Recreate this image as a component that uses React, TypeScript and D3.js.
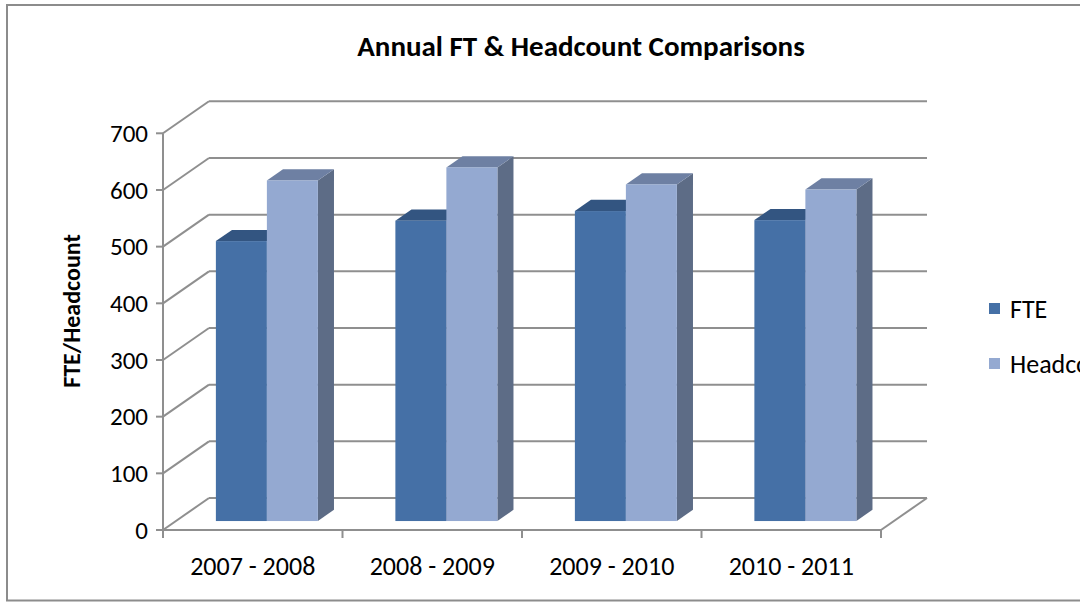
import React from "react";
import * as d3 from "d3";

const categories = ["2007 - 2008", "2008 - 2009", "2009 - 2010", "2010 - 2011"];
const seriesNames = ["FTE", "Headcount"];
const fteValues = [494, 530, 547, 531];
const headcountValues = [601, 624, 594, 585];
const yTicks = [0, 100, 200, 300, 400, 500, 600, 700];

const FONT = "Carlito, Calibri, Lato, 'Open Sans', sans-serif";

const colors = {
  FTE: { front: "#4570A6", top: "#335581", side: "#2F4D74" },
  Headcount: { front: "#94A9D1", top: "#6E80A3", side: "#5D6C86" },
};

export default function App() {
  const W = 1080, H = 602;
  const left = 163, right = 881;
  const y = d3.scaleLinear().domain([0, 700]).range([530, 133.3]);
  const x = d3.scaleBand<string>().domain(categories).range([left, right]);
  const DX = 46, DY = -32;
  const tFront = 0.28, tBack = 0.63;
  const inner = d3.scaleBand<string>().domain(seriesNames).range([40, 142]);
  const gridColor = "#8F8F8F";

  const pt = (px: number, py: number) => `${px},${py}`;

  const bars: any[] = [];
  categories.forEach((c, i) => {
    [fteValues[i], headcountValues[i]].forEach((v, si) => {
      const name = seriesNames[si] as "FTE" | "Headcount";
      const col = colors[name];
      const fx0 = (x(c) as number) + inner(name)! + DX * tFront;
      const fx1 = fx0 + inner.bandwidth();
      const fyb = y(0) + DY * tFront;
      const fyt = y(v) + DY * tFront;
      const ddx = DX * (tBack - tFront);
      const ddy = DY * (tBack - tFront);
      bars.push(
        <g key={`${c}-${name}`}>
          <polygon
            points={[pt(fx1, fyb), pt(fx1 + ddx, fyb + ddy), pt(fx1 + ddx, fyt + ddy), pt(fx1, fyt)].join(" ")}
            fill={col.side}
          />
          <polygon
            points={[pt(fx0, fyt), pt(fx1, fyt), pt(fx1 + ddx, fyt + ddy), pt(fx0 + ddx, fyt + ddy)].join(" ")}
            fill={col.top}
          />
          <rect x={fx0} y={fyt} width={fx1 - fx0} height={fyb - fyt} fill={col.front} />
        </g>
      );
    });
  });

  return (
    <div style={{ position: "fixed", left: 0, top: 0, width: W, height: H, background: "#fff" }}>
      <svg width={W} height={H} style={{ display: "block" }}>
        <rect x={7} y={5} width={1100} height={595.5} fill="#fff" stroke="#8C8C8C" strokeWidth={2} />
        <text x={581} y={46} dy="0.35em" textAnchor="middle" fontFamily={FONT} fontWeight="bold" fontSize={29} fill="#000">
          Annual FT &amp; Headcount Comparisons
        </text>
        {yTicks.map((t) => (
          <g key={`g${t}`}>
            <line x1={left} y1={y(t)} x2={left + DX} y2={y(t) + DY} stroke={gridColor} strokeWidth={2} />
            <line x1={left + DX} y1={y(t) + DY} x2={right + DX} y2={y(t) + DY} stroke={gridColor} strokeWidth={2} />
          </g>
        ))}
        <line x1={left} y1={y(0)} x2={right} y2={y(0)} stroke={gridColor} strokeWidth={2} />
        <line x1={right} y1={y(0)} x2={right + DX} y2={y(0) + DY} stroke={gridColor} strokeWidth={2} />
        <line x1={left} y1={y(700)} x2={left} y2={y(0)} stroke={gridColor} strokeWidth={2} />
        {yTicks.map((t) => (
          <g key={`yt${t}`}>
            <line x1={left - 7} y1={y(t)} x2={left} y2={y(t)} stroke={gridColor} strokeWidth={2} />
            <text x={148} y={y(t)} dy="0.35em" textAnchor="end" fontFamily={FONT} fontSize={25} fill="#000">
              {t}
            </text>
          </g>
        ))}
        {[...categories.map((c) => x(c) as number), right].map((px, i) => (
          <line key={`xt${i}`} x1={px} y1={y(0)} x2={px} y2={y(0) + 8} stroke={gridColor} strokeWidth={2} />
        ))}
        {categories.map((c) => (
          <text key={`xl${c}`} x={(x(c) as number) + x.bandwidth() / 2} y={566} dy="0.35em" textAnchor="middle" fontFamily={FONT} fontSize={26} fill="#000">
            {c}
          </text>
        ))}
        <text transform="translate(72,311) rotate(-90)" textAnchor="middle" dy="0.35em" fontFamily={FONT} fontWeight="bold" fontSize={24} fill="#000">
          FTE/Headcount
        </text>
        {bars}
        {seriesNames.map((s, i) => (
          <g key={`lg${s}`}>
            <rect x={989} y={303 + i * 55} width={11} height={11} fill={colors[s as "FTE" | "Headcount"].front} />
            <text x={1010} y={309 + i * 55} dy="0.35em" fontFamily={FONT} fontSize={26} fill="#000">
              {s}
            </text>
          </g>
        ))}
      </svg>
    </div>
  );
}
